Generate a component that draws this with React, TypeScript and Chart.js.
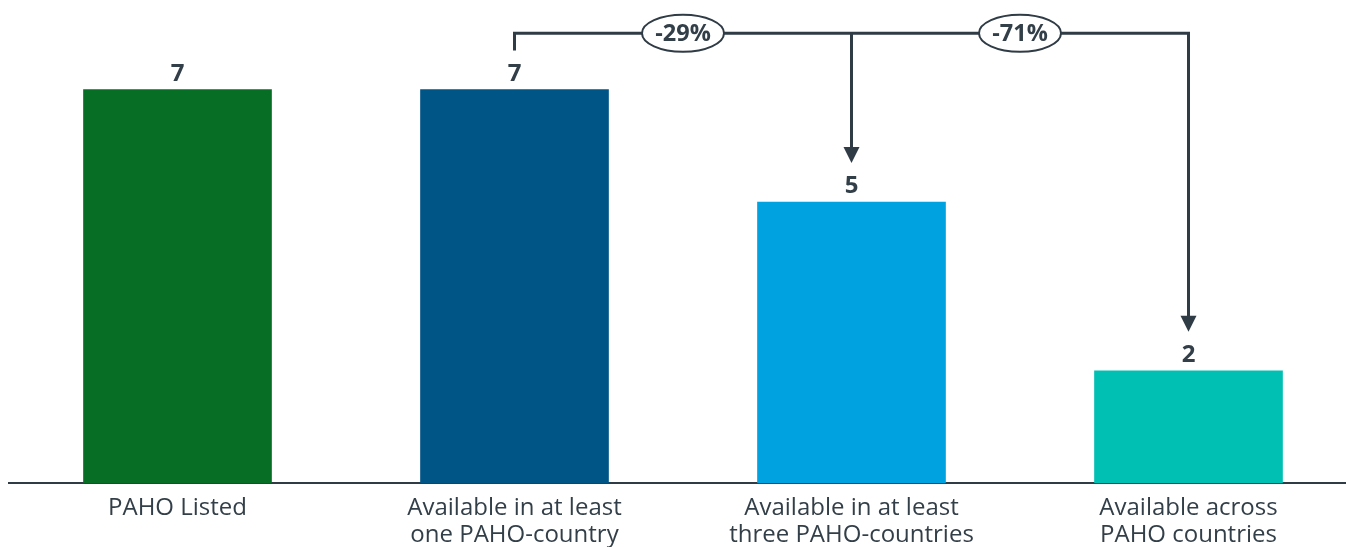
import React, { useEffect, useRef } from 'react';
import { Chart, registerables } from 'chart.js';

Chart.register(...registerables);

const categories: string[][] = [
  ['PAHO Listed'],
  ['Available in at least', 'one PAHO-country'],
  ['Available in at least', 'three PAHO-countries'],
  ['Available across', 'PAHO countries'],
];
const values: number[] = [7, 7, 5, 2];
const barColors: string[] = ['#066f25', '#005587', '#00a3e0', '#00bfb3'];
const comparisonBase = 1;
const comparisonTargets: number[] = [2, 3];
const yMax = 8;

const TEXT = '#333f48';
const LINE = '#2f3b45';
const FONT = '"Open Sans", "Noto Sans", sans-serif';

const annotationPlugin = {
  id: 'barAnnotations',
  afterDatasetsDraw(chart: any) {
    const ctx: CanvasRenderingContext2D = chart.ctx;
    const meta = chart.getDatasetMeta(0);
    const yScale = chart.scales.y;
    ctx.save();

    // value labels
    ctx.font = `bold 24px ${FONT}`;
    ctx.fillStyle = TEXT;
    ctx.textAlign = 'center';
    ctx.textBaseline = 'alphabetic';
    meta.data.forEach((bar: any, i: number) => {
      ctx.fillText(String(values[i]), bar.x, bar.y - 9);
    });

    // connectors
    const lineY = yScale.getPixelForValue(yMax);
    const endOffset = 39;
    const baseBar = meta.data[comparisonBase];
    const lastIdx = comparisonTargets[comparisonTargets.length - 1];
    const lastBar = meta.data[lastIdx];
    ctx.strokeStyle = LINE;
    ctx.fillStyle = LINE;
    ctx.lineWidth = 3;
    ctx.lineJoin = 'miter';
    ctx.lineCap = 'butt';

    ctx.beginPath();
    ctx.moveTo(baseBar.x, baseBar.y - endOffset);
    ctx.lineTo(baseBar.x, lineY);
    ctx.lineTo(lastBar.x, lineY);
    ctx.lineTo(lastBar.x, lastBar.y - endOffset - 14);
    ctx.stroke();

    comparisonTargets.forEach((t) => {
      const b = meta.data[t];
      const tipY = b.y - endOffset;
      if (t !== lastIdx) {
        ctx.beginPath();
        ctx.moveTo(b.x, lineY);
        ctx.lineTo(b.x, tipY - 14);
        ctx.stroke();
      }
      ctx.beginPath();
      ctx.moveTo(b.x - 8, tipY - 16);
      ctx.lineTo(b.x + 8, tipY - 16);
      ctx.lineTo(b.x, tipY);
      ctx.closePath();
      ctx.fill();
    });

    // percentage ellipses
    let prevX = baseBar.x;
    comparisonTargets.forEach((t) => {
      const b = meta.data[t];
      const cx = (prevX + b.x) / 2;
      prevX = b.x;
      const pct = Math.round(((values[t] - values[comparisonBase]) / values[comparisonBase]) * 100);
      ctx.beginPath();
      ctx.ellipse(cx, lineY, 41, 18.5, 0, 0, Math.PI * 2);
      ctx.fillStyle = '#ffffff';
      ctx.fill();
      ctx.lineWidth = 2;
      ctx.strokeStyle = LINE;
      ctx.stroke();
      ctx.fillStyle = TEXT;
      ctx.font = `bold 23.5px ${FONT}`;
      ctx.textAlign = 'center';
      ctx.textBaseline = 'middle';
      ctx.fillText(`${pct}%`, cx, lineY + 1);
    });

    ctx.restore();
  },
};

export default function App() {
  const canvasRef = useRef<HTMLCanvasElement | null>(null);

  useEffect(() => {
    if (!canvasRef.current) return;
    const chart = new Chart(canvasRef.current, {
      type: 'bar',
      data: {
        labels: categories,
        datasets: [
          {
            data: values,
            backgroundColor: barColors,
            borderWidth: 0,
            barThickness: 188,
          },
        ],
      },
      options: {
        animation: false,
        responsive: false,
        layout: { padding: { left: 9, right: 3, top: 33.25, bottom: 0 } },
        plugins: {
          legend: { display: false },
          tooltip: { enabled: false },
        },
        scales: {
          x: {
            grid: { display: true, color: 'rgba(0,0,0,0)', drawTicks: false, drawOnChartArea: false },
            border: { display: true, color: LINE, width: 2 },
            ticks: {
              color: TEXT,
              font: { family: FONT, size: 24, lineHeight: 1.11 },
              padding: 12,
              maxRotation: 0,
              autoSkip: false,
            },
            afterFit: (axis: any) => {
              axis.height = 116.75;
            },
          },
          y: { display: false, min: 0, max: yMax },
        },
      },
      plugins: [annotationPlugin],
    });
    return () => chart.destroy();
  }, []);

  return (
    <div style={{ position: 'fixed', left: 0, top: 0, width: 1346, height: 547, overflow: 'hidden', background: '#fff' }}>
      <canvas ref={canvasRef} width={1360} height={600} style={{ position: 'absolute', left: 0, top: 0, display: 'block' }} />
    </div>
  );
}
